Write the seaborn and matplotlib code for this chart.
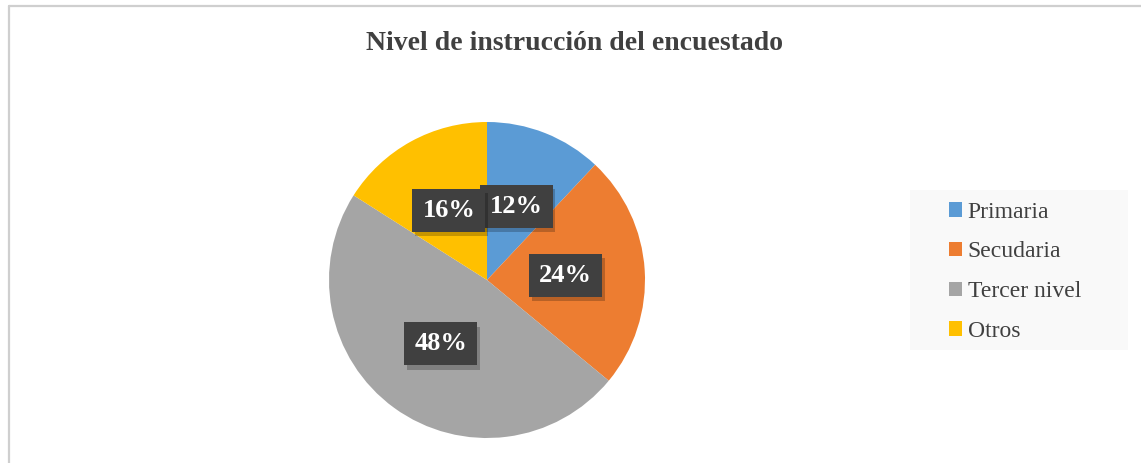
import matplotlib
matplotlib.use("Agg")
import matplotlib.pyplot as plt
import matplotlib.patheffects as pe
from matplotlib.patches import Rectangle
from matplotlib.lines import Line2D
import seaborn as sns

categories = ["Primaria", "Secudaria", "Tercer nivel", "Otros"]
values = [12, 24, 48, 16]
colors = ["#5b9bd5", "#ed7d31", "#a5a5a5", "#ffc000"]
title = "Nivel de instrucción del encuestado"

sns.set_theme(style="white")
plt.rcParams["font.family"] = ["Liberation Serif", "DejaVu Serif"]

W, H = 1141, 463
fig = plt.figure(figsize=(W / 100, H / 100), dpi=100)
fig.patch.set_facecolor("white")

# outer chart border (left and top visible)
fig.add_artist(Line2D([8.5 / W, 8.5 / W], [0, 1 - 5.5 / H], transform=fig.transFigure,
                      color="#cfcfcf", lw=1.6))
fig.add_artist(Line2D([8.5 / W, 1], [1 - 5.5 / H, 1 - 5.5 / H], transform=fig.transFigure,
                      color="#cfcfcf", lw=1.6))

cx, cy, r = 487, 280, 158
ax = fig.add_axes([(cx - r) / W, (H - cy - r) / H, 2 * r / W, 2 * r / H])
wedges, texts, autotexts = ax.pie(
    values, colors=colors, startangle=90, counterclock=False,
    autopct=lambda p: f"{p:.0f}%", pctdistance=0.5,
    wedgeprops=dict(linewidth=0),
    textprops=dict(color="white", fontsize=19, fontweight="bold"),
)
ax.set_xlim(-1, 1)
ax.set_ylim(-1, 1)
ax.set_aspect("equal")
ax.axis("off")

for t in autotexts:
    t.set_bbox(dict(boxstyle="square,pad=0.38", facecolor="#404040",
                    edgecolor="none", linewidth=0))
    t.get_bbox_patch().set_path_effects(
        [pe.SimplePatchShadow(offset=(2, -3), shadow_rgbFace="#000000", alpha=0.22), pe.Normal()])

fig.text(575 / W, 1 - 43 / H, title, ha="center", va="center",
         fontsize=20, fontweight="bold", color="#404040")

# legend background panel
fig.add_artist(Rectangle((910 / W, 1 - 350 / H), 218 / W, 160 / H, transform=fig.transFigure,
                         facecolor="#f9f9f9", edgecolor="none", zorder=0))

leg = fig.legend(wedges, categories, loc="upper left",
                 bbox_to_anchor=(937 / W, 1 - 190 / H), frameon=False,
                 fontsize=17, handlelength=0.55, handleheight=0.55,
                 handletextpad=0.25, labelspacing=0.79, borderpad=0)
for txt in leg.get_texts():
    txt.set_color("#404040")

fig.savefig("out.png", dpi=100, facecolor="white")
